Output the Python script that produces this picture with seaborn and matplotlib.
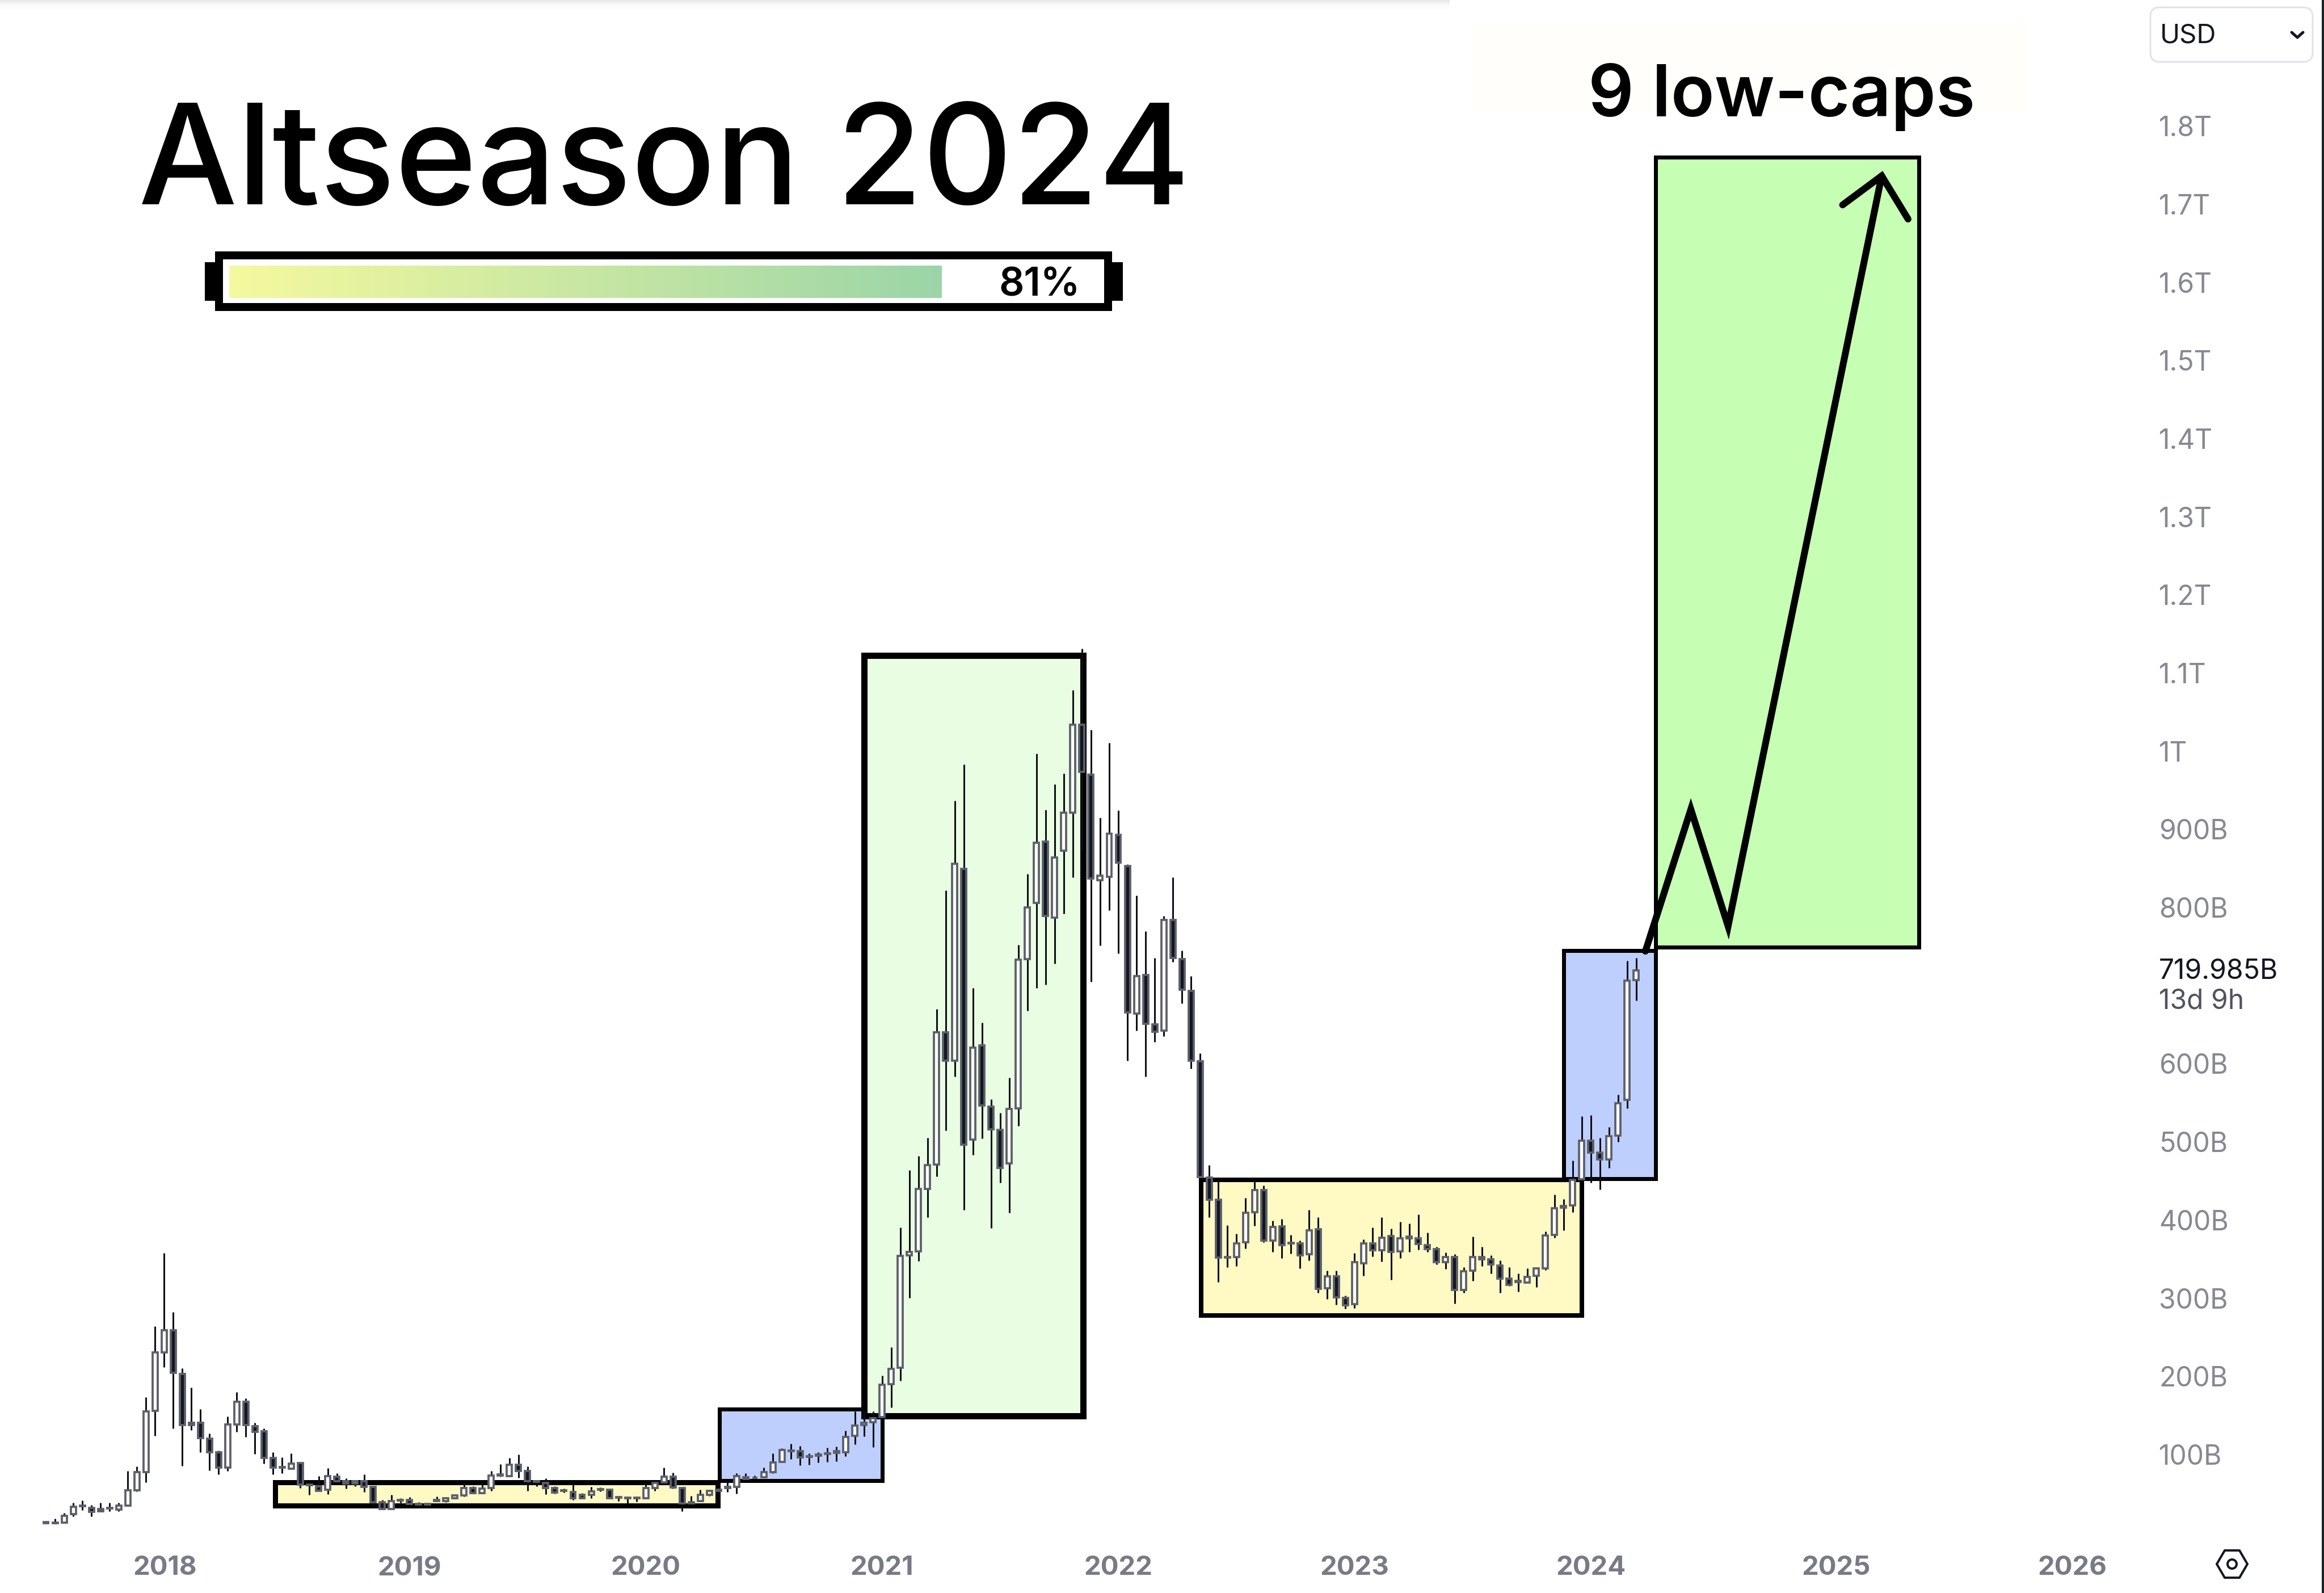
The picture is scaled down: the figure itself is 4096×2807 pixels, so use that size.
import numpy as np
import pandas as pd
import matplotlib
matplotlib.use("Agg")
import matplotlib.pyplot as plt
from matplotlib.patches import Rectangle, Polygon, Circle, FancyBboxPatch
from matplotlib.colors import LinearSegmentedColormap
import seaborn as sns

# ---- market cap candles (USD billions), one every two weeks ----
opens = [
 11.8,12.4,13.1,23.5,34.2,31.7,30.1,31.0,29.4,35,
 54,77.6,156.2,230.9,259.4,203,140.8,140.8,120.2,102.8,
 83.2,138.2,167.6,136.5,130,95.6,84.2,81.8,89,61.2,
 59,54.7,72,66,63,66.1,58.6,39.3,30.1,42.2,
 41.6,36.7,36,40.5,40.6,44.2,47.5,57,50.4,57,
 73.3,72.7,87.1,79.2,66.1,63.8,57,54.5,52.4,48.1,
 48.1,55,54.7,45.5,44.5,44.2,43.9,57.3,64.5,72,
 57.3,37.3,40.6,48.1,53.7,57.5,58.5,71,70,71.1,
 77.8,90.7,105,104.4,97,98.5,100.5,102.5,103,124,
 137.7,141.5,148.1,190,211.1,354.8,360,440,470.8,640.4,
 604.2,849.8,503.2,623.7,545.4,515.3,472.2,543.1,734,805.8,
 884.5,787.2,872.9,921.6,1033.7,970.2,835,839.1,892.9,853,
 664.4,714,650.5,642.7,784,734,693.2,603.3,454.7,426,
 351.8,352.4,371.3,409.9,438.3,373.8,391.9,370.4,370.4,356,
 388.5,312.6,328.2,300.3,292.6,344.9,370.4,361.5,379.3,359.9,
 376.5,376.5,368.2,362.6,346.2,352.9,310.4,335.4,353,350.1,
 341.8,325.1,321,320.4,328.7,338.4,380.7,418,419.1,452.5,
 501.7,486.7,477.5,507.8,553.7,707.4]
closes = [
 13.7,13.1,21.9,33.4,35.0,26.8,27.5,31.8,35,54.3,
 77.6,155.2,230.9,259.4,204.3,137.5,137.5,120.8,102.8,83.2,
 138.2,167.6,137.5,129,95.6,83.2,83,88.4,61.2,60.5,
 53.7,72.7,66.1,62.9,66,58.9,39.3,30.1,40.6,41,
 36.7,36,36.7,41.6,44.2,47.5,57,50.4,56.3,73.3,
 74.3,87.1,79.2,66.1,65.5,57.3,51,53.5,44.2,44.2,
 53,55.9,43.9,44.5,44.2,44.8,57,63.5,72,58,
 37.3,39.3,48.1,53.7,54.7,58.5,72.2,69,70.5,77.8,
 89.6,105.5,104,96.3,97.5,100,101.5,104,122.2,137,
 140.7,146.3,189.6,210,354.4,359,440,470.4,640.4,604.2,
 855.8,496.7,620.4,546.3,516.2,466.6,542.6,733,800.2,883.1,
 789.1,863.7,921.6,1033.7,973.5,836.8,840.5,894.7,857.6,665.8,
 712.2,651.5,641.3,784,735.3,694.6,604.2,455,426,351.8,
 352.5,370.4,409.4,438.3,373.8,391.3,368.2,371,354.9,387.1,
 312,328.2,300.9,291.2,345.9,370.4,361.5,377.4,359.3,376.5,
 378.8,369.6,362.6,346,352.4,310.4,334.8,352.9,350,343.5,
 325.4,317,322,327.3,337.9,380.2,414.9,416,451.6,501.7,
 486.7,477.5,507.3,549.8,706.7,719.3]
highs = [
 13.7,17.7,25.2,38.3,40.9,35.7,38.3,38,38.3,79.2,
 85.1,173.2,264.3,357.6,282.3,210.2,185.7,157.8,126.7,104.8,
 148.7,180.1,172.2,140.5,133.3,102.8,96.3,101.5,90.7,62.9,
 72.7,82.5,76,69.4,66.8,74.3,59.6,41.6,48.1,43.9,
 45.5,39.3,38.6,46.5,45.8,49.1,63.5,59.6,63.5,79.2,
 87.4,95.6,100.2,85.1,66.8,69.4,59.6,56.3,61.9,50.4,
 58.9,58,56.3,47.1,46.5,46.5,62.9,65.5,83.5,77,
 58,47.1,54.7,54.7,58,64.8,75.9,75.9,73.3,83.3,
 101.8,108.1,114,111.1,101.8,102.6,108.5,110.3,130.7,155.5,
 155.5,155.5,201.1,237,390.7,463.7,482.2,505.2,670,822,
 936.4,983.2,696.9,652.9,554.6,537,582.5,752,842.8,997.1,
 925.3,957.3,971.2,1078.2,1131,1027.2,914.6,1011,923.9,855.3,
 815,769.6,735.3,789,838.2,744.6,712.2,613.5,470.6,449.7,
 393.5,382.4,428,449.7,444.1,399.1,401.6,381,374,412.7,
 403.3,335.4,335.4,303.7,357.6,375.4,390.7,403.3,389.3,397.7,
 395.5,407.4,383.8,365.7,358.8,356.5,339.8,378.8,366,354.9,
 348.2,339.8,331.5,338.4,339.8,385.2,432.4,426.6,476.1,532.8,
 534,505.3,519.2,560.1,731.5,735.6]
lows = [
 11.8,11.1,12.5,20.9,29.1,20.9,26.8,27.5,27.5,34,
 53,64.5,124.1,211.9,133.3,85.8,131,102.8,79.9,74.6,
 78.6,129.3,122.8,100.5,88.4,74.6,76,81.8,57,48.1,
 53,49.1,61.2,56.3,59.6,52.4,35,30.1,30.1,38.3,
 36,34,34.7,40,39,43.2,46.5,49.8,49.8,53.7,
 72,72,70,53.7,59.6,49.1,49.8,51.4,41.6,43.9,
 43.9,53,43.2,40.6,37.3,40,43.2,53.7,62.9,56.3,
 27.5,36,40,47.1,51.4,51.8,50,68.5,68.5,70.4,
 75.9,89.6,94.4,85.9,87,89.6,90.7,91.5,98.1,113,
 123,109.3,148.1,160,194.4,300.7,347.4,403.7,456,514.8,
 583.4,413.3,483.8,504.6,389.7,447.6,409.2,520.8,667.7,696.9,
 701,728.4,791.9,838.2,872.9,705.2,751.1,796.5,740.9,604.2,
 642.2,583.4,628.3,635.3,730.2,677,594,455,403.8,320.9,
 339.8,341.2,363.5,392.7,371.8,359.3,351,357,338.4,348.2,
 307,298.7,291.7,286.5,287.6,328.7,353.8,347.1,323.7,351,
 359.3,362.1,359.3,343.2,337.6,293.1,307,322.3,341.2,331.5,
 307,315.4,308.4,319.8,314,335.7,377.4,386.6,410.2,452.5,
 447.8,439.4,466.9,499.8,543,680.8]

# ---- axis labels ----
year_labels = ["2018","2019","2020","2021","2022","2023","2024","2025","2026"]
year_candles = [13.1, 40, 66, 92, 118, 144, 170, 197, 223]
price_ticks = [100,200,300,400,500,600,800,900,1000,1100,1200,1300,1400,1500,1600,1700,1800]
price_labels = ["100B","200B","300B","400B","500B","600B","800B","900B","1T",
                "1.1T","1.2T","1.3T","1.4T","1.5T","1.6T","1.7T","1.8T"]

# ---- phase boxes: candle from, candle to, cap low, cap high ----
box_starts = [25.2, 74.1, 90.0, 127.1, 167.0, 177.1]
box_ends   = [73.9, 92.0, 114.1, 169.0, 177.1, 206.1]
box_lows   = [34.6, 66.6, 149.4, 277.8, 452.9, 749.0]
box_highs  = [64.4, 158.1, 1122.5, 451.4, 744.8, 1760.0]
box_colors = ["#fff9c4", "#bfcffd", "#e9fde2", "#fff9c4", "#bfcffd", "#c6ffb3"]
box_edges_px = [9, 7, 11, 8, 7, 7]

# ---- projected path ----
path_x = [176.0, 181.0, 185.1, 202.0]
path_y = [744.1, 925.6, 776.1, 1736.2]
head_x = [197.7, 202.0, 204.9]
head_y = [1699.1, 1736.2, 1681.0]

W, H = 4096, 2807
PX = 0.72   # points per pixel at dpi 100

sns.set_theme(style="white")
plt.rcParams["font.family"] = ["Inter", "DejaVu Sans"]

fig = plt.figure(figsize=(W / 100, H / 100), dpi=100, facecolor="white")

# main chart axes
ax = fig.add_axes([0, (H - 2715) / H, 3790 / W, 2715 / H])

candles = pd.DataFrame({"t": np.arange(len(opens)), "open": opens, "close": closes,
                        "high": highs, "low": lows})
candles["base"] = candles[["open", "close"]].min(axis=1)
candles["size"] = (candles["close"] - candles["open"]).abs()
ups = candles[candles["close"] >= candles["open"]]
downs = candles[candles["close"] < candles["open"]]

for x0, x1, lo, hi, col, lw in zip(box_starts, box_ends, box_lows, box_highs, box_colors, box_edges_px):
    ax.add_patch(Rectangle((x0, lo), x1 - x0, hi - lo, facecolor=col, edgecolor="black",
                           linewidth=lw * PX, joinstyle="miter", zorder=1))

ax.vlines(candles["t"], candles["low"], candles["high"], color="#0b0e14",
          linewidth=3 * PX, zorder=3)
for part, col in ((ups, "#ffffff"), (downs, "#131722")):
    sns.barplot(data=part, x="t", y="size", bottom=part["base"].values, native_scale=True,
                width=0.56, color=col, saturation=1, errorbar=None,
                edgecolor="#5d606b", linewidth=3.8 * PX, zorder=4, ax=ax)

sns.lineplot(x=path_x, y=path_y, color="black", linewidth=12 * PX, sort=False, errorbar=None,
             solid_capstyle="round", solid_joinstyle="miter", zorder=5, ax=ax)
sns.lineplot(x=head_x, y=head_y, color="black", linewidth=12 * PX, sort=False, errorbar=None,
             solid_capstyle="round", solid_joinstyle="miter", zorder=5, ax=ax)

ax.set_xlim((0 - 81) / 16.017, (3790 - 81) / 16.017)
ax.set_ylim((2700.7 - 2715) / 1.377, 2700.7 / 1.377)
ax.set_xlabel("")
ax.set_ylabel("")
for s in ax.spines.values():
    s.set_visible(False)
ax.grid(False)
ax.patch.set_alpha(0)
ax.yaxis.tick_right()
ax.set_yticks(price_ticks)
ax.set_yticklabels(price_labels, fontsize=34.5, color="#868993", ha="left")
ax.set_xticks(year_candles)
ax.set_xticklabels(year_labels, fontsize=34, fontweight="bold", color="#787b86")
ax.tick_params(axis="y", length=0, pad=15 * PX)
ax.tick_params(axis="x", length=0, pad=26 * PX)

# overlay in pixel coordinates for page furniture
ui = fig.add_axes([0, 0, 1, 1], zorder=-1)
ui.axis("off")
top = fig.add_axes([0, 0, 1, 1], zorder=10)
top.axis("off")
top.patch.set_alpha(0)

# faint page shadow along the top edge, faint band behind the second heading
shadow = LinearSegmentedColormap.from_list("s", ["#e6e7e8", "#fbfbfb", "#ffffff"])
ui.imshow(np.linspace(0, 1, 64)[:, None], cmap=shadow, extent=(0, 2555, 18, 0), aspect="auto")
ui.set_xlim(0, W)
ui.set_ylim(H, 0)
ui.add_patch(Rectangle((2594, 38), 981, 162, facecolor="#fffefb", edgecolor="none"))

top.text(244, 360, "Altseason 2024", fontsize=177, fontweight="medium", color="black",
         ha="left", va="baseline")
top.text(3140, 205, "9 low-caps", fontsize=91, fontweight="semibold", color="black",
         ha="center", va="baseline")

# progress bar
grad = LinearSegmentedColormap.from_list("g", ["#f5f99e", "#9bd5a8"])
top.imshow(np.linspace(0, 1, 256)[None, :], cmap=grad, extent=(404, 1660, 525, 468),
           aspect="auto", zorder=1)
top.set_xlim(0, W)
top.set_ylim(H, 0)
top.add_patch(Rectangle((386, 450), 1567, 91, facecolor="none", edgecolor="black",
                        linewidth=14 * PX, joinstyle="miter", zorder=2))
top.add_patch(Rectangle((361, 462), 18, 68, facecolor="black", edgecolor="none", zorder=2))
top.add_patch(Rectangle((1960, 462), 19, 68, facecolor="black", edgecolor="none", zorder=2))
top.text(1832, 522, "81%", fontsize=50, fontweight="semibold", color="black",
         ha="center", va="baseline", zorder=3)

# last price labels
top.text(3805, 1712, "719.985B", fontsize=34.5, color="#131722", ha="left", va="center")
top.text(3805, 1765, "13d 9h", fontsize=34.5, color="#50535e", ha="left", va="center")

# currency selector
top.add_patch(FancyBboxPatch((3802, 25), 262, 72, boxstyle="round,pad=12,rounding_size=16",
                             facecolor="white", edgecolor="#e0e3eb", linewidth=3 * PX))
top.text(3807, 64, "USD", fontsize=34, color="#131722", ha="left", va="center")
top.plot([4039, 4049, 4059], [57, 66, 57], color="#131722", linewidth=5 * PX)

# settings icon
cx, cy = 3934, 2756
top.add_patch(Polygon([(cx - 27, cy), (cx - 13, cy - 24), (cx + 13, cy - 24), (cx + 27, cy),
                       (cx + 13, cy + 24), (cx - 13, cy + 24)], closed=True,
                      facecolor="none", edgecolor="#131722", linewidth=4 * PX))
top.add_patch(Circle((cx, cy), 8, facecolor="none", edgecolor="#131722", linewidth=4 * PX))

# window edge on the right
top.add_patch(Rectangle((4092, 0), 4, H, facecolor="#1e222d", edgecolor="none"))
top.set_xlim(0, W)
top.set_ylim(H, 0)

fig.savefig("out.png", dpi=100, facecolor="white")
